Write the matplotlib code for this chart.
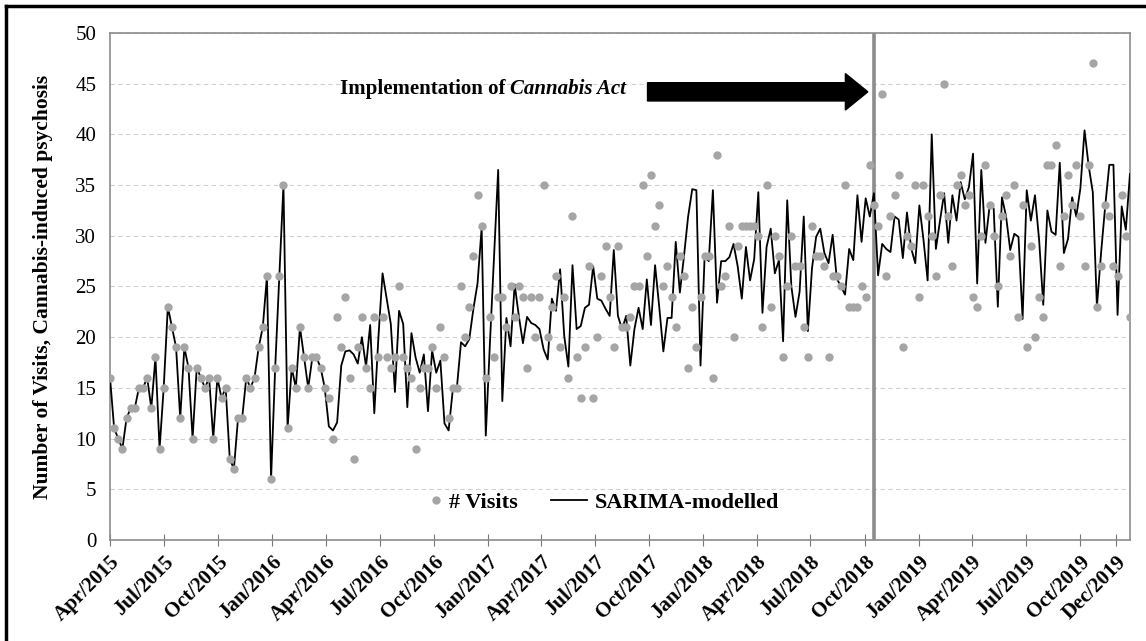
import numpy as np
import pandas as pd
import matplotlib
matplotlib.use("Agg")
import matplotlib.pyplot as plt
import matplotlib.dates as mdates
from matplotlib.lines import Line2D
from matplotlib.legend_handler import HandlerLine2D

# --- Data (weekly) ---
START_DATE = "2015-04-01"
ACT_DATE = "2018-10-17"

visits = [
    16, 11, 10, 9, 12, 13, 13, 15, 15, 16,
    13, 18, 9, 15, 23, 21, 19, 12, 19, 17,
    10, 17, 16, 15, 16, 10, 16, 14, 15, 8,
    7, 12, 12, 16, 15, 16, 19, 21, 26, 6,
    17, 26, 35, 11, 17, 15, 21, 18, 15, 18,
    18, 17, 15, 14, 10, 22, 19, 24, 16, 8,
    19, 22, 17, 15, 22, 18, 22, 18, 17, 18,
    25, 18, 17, 16, 9, 15, 17, 17, 19, 15,
    21, 18, 12, 15, 15, 25, 20, 23, 28, 34,
    31, 16, 22, 18, 24, 24, 21, 25, 22, 25,
    24, 17, 24, 20, 24, 35, 20, 23, 26, 19,
    24, 16, 32, 18, 14, 19, 27, 14, 20, 26,
    29, 24, 19, 29, 21, 21, 22, 25, 25, 35,
    28, 36, 31, 33, 25, 27, 24, 21, 28, 26,
    17, 23, 19, 24, 28, 28, 16, 38, 25, 26,
    31, 20, 29, 31, 31, 31, 31, 30, 21, 35,
    23, 30, 28, 18, 25, 30, 27, 27, 21, 18,
    31, 28, 28, 27, 18, 26, 26, 25, 35, 23,
    23, 23, 25, 24, 37, 33, 31, 44, 26, 32,
    34, 36, 19, 30, 29, 35, 24, 35, 32, 30,
    26, 34, 45, 32, 27, 35, 36, 33, 34, 24,
    23, 30, 37, 33, 30, 25, 32, 34, 28, 35,
    22, 33, 19, 29, 20, 24, 22, 37, 37, 39,
    27, 32, 36, 33, 37, 32, 27, 37, 47, 23,
    27, 33, 32, 27, 26, 34, 30, 22,
]

sarima = [
    16, 11, 10, 9, 12, 13, 13, 15, 15, 16,
    13, 18, 9, 15, 23, 21, 19, 12, 19, 17,
    10, 17, 16, 15, 16, 10, 16, 14, 15, 8,
    7, 12, 12, 16, 15, 16, 19, 21, 26, 6,
    17, 26, 35, 11, 17, 15, 21, 18, 15, 18,
    18, 17, 15, 11.2, 10.8, 11.6, 17.2, 18.6, 18.7, 18.3,
    17.4, 20.0, 17.1, 21.2, 12.5, 20.0, 26.3, 23.8, 21.3, 14.6,
    22.6, 21.3, 13.1, 20.4, 18.0, 16.5, 18.3, 12.7, 18.7, 16.5,
    17.7, 11.5, 10.8, 14.8, 15.0, 19.5, 19.1, 19.8, 22.8, 25.3,
    30.8, 10.3, 19.4, 27.9, 36.5, 13.7, 21.9, 19.1, 25.2, 22.1,
    19.4, 22.0, 21.4, 21.2, 20.8, 18.8, 17.8, 23.8, 22.6, 26.7,
    20.1, 17.1, 27.1, 20.8, 21.1, 22.9, 23.2, 27.0, 23.8, 23.6,
    22.8, 22.1, 28.6, 22.1, 20.8, 22.1, 17.2, 20.8, 22.9, 20.8,
    25.7, 21.2, 27.1, 23.0, 18.6, 21.9, 21.9, 29.4, 24.4, 28.0,
    31.9, 34.6, 34.5, 17.2, 28.0, 27.5, 34.5, 23.4, 27.5, 27.5,
    27.9, 29.2, 27.0, 23.8, 28.9, 25.6, 27.7, 34.3, 22.4, 28.9,
    30.7, 26.3, 27.6, 19.6, 33.5, 25.0, 22.0, 24.5, 31.9, 20.6,
    26.8, 29.9, 30.7, 28.3, 27.3, 30.1, 25.8, 25.0, 24.2, 28.7,
    27.6, 34.0, 29.4, 33.7, 31.9, 34.2, 26.1, 29.2, 28.7, 28.4,
    31.9, 31.6, 27.8, 32.3, 28.8, 27.3, 33.0, 29.6, 25.6, 40.0,
    28.7, 31.5, 34.2, 29.3, 34.0, 31.5, 35.3, 33.6, 34.8, 38.1,
    25.3, 36.5, 29.3, 32.9, 32.7, 23.0, 33.8, 31.9, 28.6, 30.2,
    29.9, 21.8, 34.5, 31.5, 34.0, 29.6, 23.2, 32.5, 30.4, 30.1,
    37.2, 28.3, 29.7, 33.8, 31.9, 34.7, 40.4, 36.9, 34.3, 23.0,
    28.3, 32.9, 37.0, 37.0, 22.2, 32.9, 30.6, 36.1,
]

tick_dates = list(pd.date_range("2015-04-01", "2019-10-01", freq="3MS")) + [pd.Timestamp("2019-12-01")]

weeks = pd.date_range(START_DATE, periods=len(visits), freq="7D")

SERIF = ["Liberation Serif", "DejaVu Serif"]
plt.rcParams["font.family"] = SERIF

POINT_GREY = "#a5a5a5"


class MarkerRightHandler(HandlerLine2D):
    """Puts a lone marker near the text instead of centred in the handle box."""
    def create_artists(self, legend, orig_handle, xdescent, ydescent, width, height, fontsize, trans):
        arts = super().create_artists(legend, orig_handle, xdescent, ydescent, width, height, fontsize, trans)
        for a in arts:
            a.set_xdata([width - xdescent - 0.25 * fontsize])
        return arts


fig = plt.figure(figsize=(11.46, 6.41), dpi=100)
ax = fig.add_axes([0.096, 0.1576, 0.986 - 0.096, 0.9485 - 0.1576])

# --- Series ---
ax.plot(weeks, sarima, color="black", lw=1.3, zorder=3)
ax.plot(weeks, visits, ls="none", marker="o", ms=5, color=POINT_GREY, zorder=4)

# Cannabis Act line
ax.axvline(pd.Timestamp(ACT_DATE), color="#8c8c8c", lw=2.6, zorder=2)

# --- Axes ---
ax.set_xlim(weeks[0], weeks[-1])
ax.set_ylim(0, 50)
ax.set_yticks(np.arange(0, 51, 5))
ax.yaxis.grid(True, ls=(0, (4, 3)), color="#cfcfcf", lw=0.8)
ax.set_axisbelow(True)

ax.set_xticks(tick_dates)
ax.xaxis.set_major_formatter(mdates.DateFormatter("%b/%Y"))
for lab in ax.get_xticklabels():
    lab.set_rotation(45)
    lab.set_ha("right")
    lab.set_rotation_mode("anchor")
    lab.set_fontweight("bold")
ax.tick_params(axis="x", direction="inout", length=9, color="#777777", labelsize=15, pad=4)
ax.tick_params(axis="y", length=0, labelsize=15, pad=10)

for sp in ax.spines.values():
    sp.set_color("#8c8c8c")
    sp.set_linewidth(1.2)

ax.set_ylabel("Number of Visits, Cannabis-induced psychosis", fontsize=15.5,
              fontweight="bold", labelpad=16)

# --- Annotation ---
t1 = ax.text(0.225, 0.89, "Implementation of ", transform=ax.transAxes,
             fontsize=15, fontweight="bold", va="center", ha="left")
ax.annotate("Cannabis Act", xycoords=t1, xy=(1, 0), va="bottom", ha="left",
            fontsize=15, fontweight="bold", style="italic")
ax.arrow(0.527, 0.884, 0.743 - 0.527, 0, transform=ax.transAxes,
         width=0.036, head_width=0.072, head_length=0.022,
         length_includes_head=True, color="black", zorder=5)

# --- Legend ---
h_pts = Line2D([], [], ls="none", marker="o", ms=5, color=POINT_GREY)
h_line = Line2D([], [], color="black", lw=1.3)
ax.legend([h_pts, h_line], ["# Visits", "SARIMA-modelled"], loc="center",
          bbox_to_anchor=(0.473, 0.073), ncol=2, frameon=False,
          prop={"weight": "bold", "size": 16},
          handlelength=1.6, handletextpad=0.35, columnspacing=1.5,
          handler_map={h_pts: MarkerRightHandler()})

# outer frame (left and top)
fig.add_artist(Line2D([0.005, 0.005], [0, 0.991], color="black", lw=2.5, transform=fig.transFigure))
fig.add_artist(Line2D([0.005, 1.0], [0.991, 0.991], color="black", lw=2.5, transform=fig.transFigure))

fig.savefig("out.png", dpi=100)
